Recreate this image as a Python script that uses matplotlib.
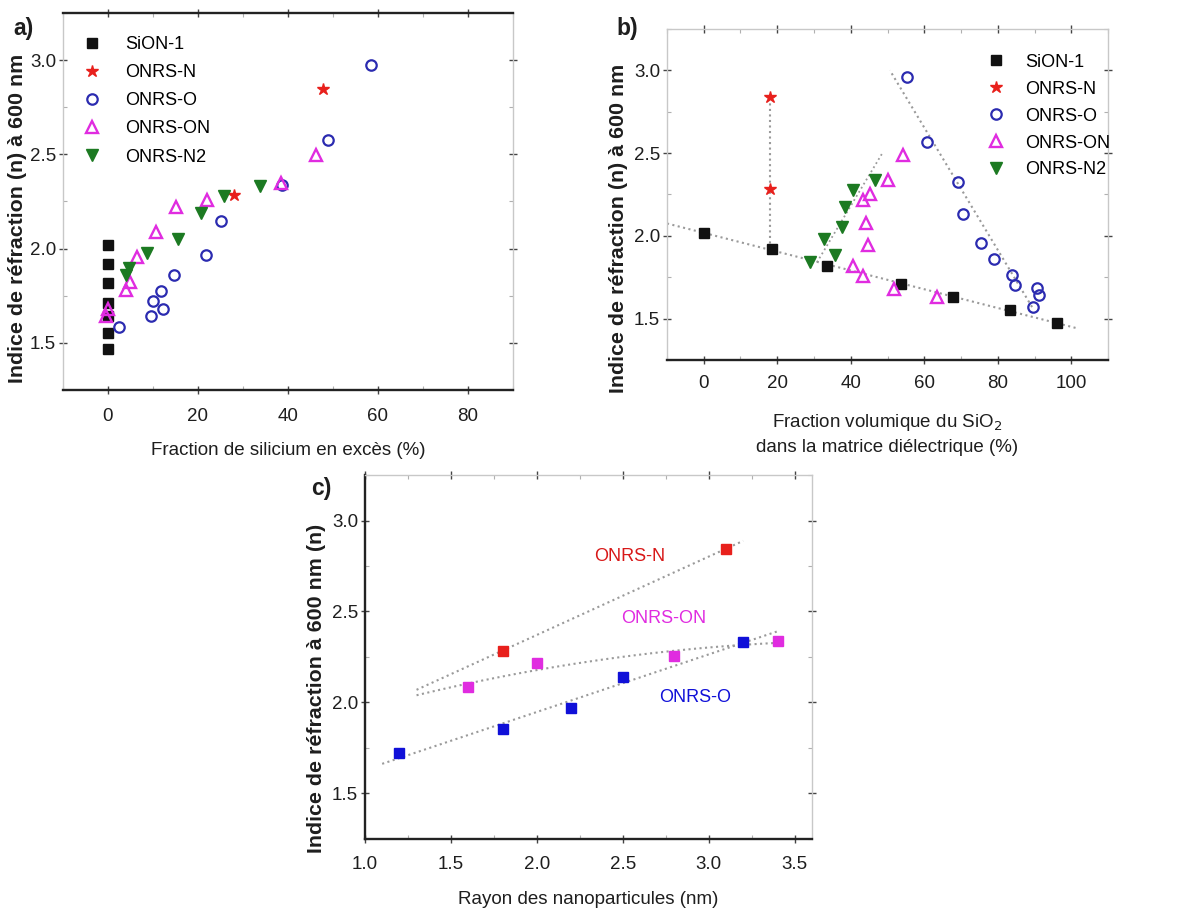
import numpy as np
import matplotlib
matplotlib.use("Agg")
import matplotlib.pyplot as plt
from matplotlib.ticker import MultipleLocator

plt.rcParams['font.family'] = ['Liberation Sans', 'DejaVu Sans']

# ---------------- data: panel a ----------------
a_sion_x = [0, 0, 0, 0, 0, 0, 0]
a_sion_y = [2.02, 1.92, 1.82, 1.71, 1.64, 1.55, 1.47]
a_n_x = [47.9, 28.0]
a_n_y = [2.845, 2.285]
a_o_x = [58.5, 49.0, 38.6, 25.2, 21.8, 14.7, 11.7, 10.0, 12.2, 9.6, 2.4]
a_o_y = [2.975, 2.576, 2.337, 2.145, 1.968, 1.862, 1.773, 1.72, 1.68, 1.645, 1.583]
a_on_x = [46.2, 38.4, 22.1, 15.1, 10.6, 6.4, 4.8, 4.0, 0.0, -0.4]
a_on_y = [2.496, 2.346, 2.26, 2.222, 2.089, 1.956, 1.823, 1.778, 1.68, 1.64]
a_n2_x = [33.7, 25.8, 20.6, 15.6, 8.7, 4.6, 4.0]
a_n2_y = [2.331, 2.278, 2.19, 2.05, 1.979, 1.897, 1.858]

# ---------------- data: panel b ----------------
b_sion_x = [0, 18.5, 33.6, 53.6, 67.7, 83.4, 96.1]
b_sion_y = [2.02, 1.92, 1.82, 1.71, 1.63, 1.55, 1.475]
b_n_x = [17.9, 17.9]
b_n_y = [2.84, 2.285]
b_o_x = [55.2, 60.8, 69.1, 70.6, 75.5, 79.1, 83.8, 84.7, 90.6, 91.1, 89.7]
b_o_y = [2.96, 2.566, 2.325, 2.135, 1.955, 1.859, 1.764, 1.705, 1.685, 1.645, 1.57]
b_on_x = [54.3, 50.0, 45.2, 43.4, 44.1, 44.7, 40.5, 43.2, 51.9, 63.4]
b_on_y = [2.486, 2.335, 2.255, 2.215, 2.079, 1.945, 1.819, 1.759, 1.679, 1.629]
b_n2_x = [46.5, 40.6, 38.4, 37.7, 32.7, 35.8, 28.8]
b_n2_y = [2.335, 2.275, 2.175, 2.051, 1.979, 1.885, 1.845]

# ---------------- data: panel c ----------------
c_n_r = [1.8, 3.1]
c_n_n = [2.285, 2.845]
c_on_r = [1.6, 2.0, 2.8, 3.4]
c_on_n = [2.084, 2.217, 2.254, 2.339]
c_o_r = [1.2, 1.8, 2.2, 2.5, 3.2]
c_o_n = [1.723, 1.856, 1.969, 2.142, 2.334]

series_labels = ['SiON-1', 'ONRS-N', 'ONRS-O', 'ONRS-ON', 'ONRS-N2']

BLACK = '#111111'
RED = '#e8201c'
BLUE = '#2b2bb0'
MAG = '#e02ce0'
GREEN = '#1c7a22'
CBLUE = '#1010d8'
TREND = '#9a9a9a'
TXT = '#1e1e1e'
YLAB_FS = 15.4

fig = plt.figure(figsize=(11.9, 9.14), dpi=100)

ax_a = fig.add_axes([0.0529, 0.5733, 0.378, 0.4125])
ax_b = fig.add_axes([0.5605, 0.6061, 0.3706, 0.3622])
ax_c = fig.add_axes([0.3067, 0.0821, 0.3756, 0.3982])


def style(ax, dark_sides, xpad):
    for side in ['left', 'right', 'top', 'bottom']:
        sp = ax.spines[side]
        if side in dark_sides:
            sp.set_color('#222222')
            sp.set_linewidth(1.7)
        else:
            sp.set_color('#c8c8c8')
            sp.set_linewidth(1.0)
    ax.tick_params(which='major', direction='inout', length=6, width=1,
                   top=True, right=True, labelsize=13.5, colors='#444444',
                   labelcolor=TXT)
    ax.tick_params(axis='y', which='major', pad=2)
    ax.tick_params(axis='x', which='major', pad=xpad)
    ax.tick_params(which='minor', direction='in', length=3, width=0.8,
                   top=True, right=True, colors='#b0b0b0')
    # lighter tick marks on the top and right sides
    for t in ax.xaxis.get_major_ticks():
        t.tick2line.set_color('#999999')
    for t in ax.yaxis.get_major_ticks():
        t.tick2line.set_color('#999999')


def draw_series(ax, sx, sy, nx, ny, ox, oy, onx, ony, n2x, n2y):
    ax.plot(sx, sy, 's', color=BLACK, ms=6.5, label=series_labels[0], zorder=3)
    ax.plot(nx, ny, '*', color=RED, ms=9, label=series_labels[1], zorder=3)
    ax.plot(ox, oy, 'o', mfc='none', mec=BLUE, mew=1.6, ms=7.5,
            label=series_labels[2], zorder=3)
    ax.plot(onx, ony, '^', mfc='none', mec=MAG, mew=1.7, ms=8.5,
            label=series_labels[3], zorder=3)
    ax.plot(n2x, n2y, 'v', color=GREEN, ms=8.5, label=series_labels[4], zorder=3)


# ---------------- panel a ----------------
draw_series(ax_a, a_sion_x, a_sion_y, a_n_x, a_n_y, a_o_x, a_o_y,
            a_on_x, a_on_y, a_n2_x, a_n2_y)
ax_a.set_xlim(-10, 90)
ax_a.set_ylim(1.25, 3.25)
ax_a.xaxis.set_major_locator(MultipleLocator(20))
ax_a.xaxis.set_minor_locator(MultipleLocator(10))
ax_a.yaxis.set_major_locator(MultipleLocator(0.5))
ax_a.yaxis.set_minor_locator(MultipleLocator(0.25))
style(ax_a, ['top', 'bottom'], xpad=10)
ax_a.set_xlabel('Fraction de silicium en excès (%)', fontsize=13.5,
                color=TXT, labelpad=12)
ax_a.set_ylabel('Indice de réfraction (n) à 600 nm', fontsize=YLAB_FS,
                fontweight='bold', color=TXT)
ax_a.yaxis.set_label_coords(-0.079, 0.456)
ax_a.legend(loc='upper left', bbox_to_anchor=(0.005, 0.968), frameon=False,
            fontsize=13, handletextpad=0.9, labelspacing=0.62,
            borderaxespad=0.2, handlelength=1.8)

# ---------------- panel b ----------------
draw_series(ax_b, b_sion_x, b_sion_y, b_n_x, b_n_y, b_o_x, b_o_y,
            b_on_x, b_on_y, b_n2_x, b_n2_y)
# trend lines (fits of the series)
p = np.polyfit(b_sion_x, b_sion_y, 1)
xx = np.linspace(-10, 102, 50)
ax_b.plot(xx, np.polyval(p, xx), ':', color=TREND, lw=1.5, zorder=1)
ax_b.plot(b_n_x, [b_sion_y[1], b_n_y[0]], ':', color=TREND, lw=1.5, zorder=1)
p = np.polyfit(b_o_y, b_o_x, 1)
yy = np.linspace(1.57, 3.0, 50)
ax_b.plot(np.polyval(p, yy), yy, ':', color=TREND, lw=1.5, zorder=1)
p = np.polyfit(b_n2_y, b_n2_x, 1)
yy = np.linspace(1.84, 2.5, 50)
ax_b.plot(np.polyval(p, yy), yy, ':', color=TREND, lw=1.3, zorder=1)
ax_b.set_xlim(-10, 110)
ax_b.set_ylim(1.25, 3.25)
ax_b.xaxis.set_major_locator(MultipleLocator(20))
ax_b.xaxis.set_minor_locator(MultipleLocator(10))
ax_b.yaxis.set_major_locator(MultipleLocator(0.5))
ax_b.yaxis.set_minor_locator(MultipleLocator(0.25))
style(ax_b, ['bottom'], xpad=8)
ax_b.set_xlabel('Fraction volumique du SiO$_2$\ndans la matrice diélectrique (%)',
                fontsize=13.5, color=TXT, labelpad=14, linespacing=1.45)
ax_b.set_ylabel('Indice de réfraction (n) à 600 nm', fontsize=YLAB_FS,
                fontweight='bold', color=TXT)
ax_b.yaxis.set_label_coords(-0.088, 0.399)
ax_b.legend(loc='upper right', bbox_to_anchor=(1.03, 0.958), frameon=False,
            fontsize=13, handletextpad=0.7, labelspacing=0.55,
            borderaxespad=0.2, handlelength=1.8)

# ---------------- panel c ----------------
p = np.polyfit(c_n_r, c_n_n, 1)
rr = np.linspace(1.3, 3.2, 50)
ax_c.plot(rr, np.polyval(p, rr), ':', color=TREND, lw=1.5, zorder=1)
p = np.polyfit(c_on_r, c_on_n, 2)
rr = np.linspace(1.3, 3.4, 50)
ax_c.plot(rr, np.polyval(p, rr), ':', color=TREND, lw=1.5, zorder=1)
p = np.polyfit(c_o_r, c_o_n, 1)
rr = np.linspace(1.1, 3.4, 50)
ax_c.plot(rr, np.polyval(p, rr), ':', color=TREND, lw=1.5, zorder=1)
ax_c.plot(c_n_r, c_n_n, 's', color=RED, ms=7, zorder=3)
ax_c.plot(c_on_r, c_on_n, 's', color=MAG, ms=7, zorder=3)
ax_c.plot(c_o_r, c_o_n, 's', color=CBLUE, ms=7, zorder=3)
ax_c.text(2.54, 2.80, 'ONRS-N', color='#d81818', fontsize=13,
          ha='center', va='center')
ax_c.text(2.74, 2.46, 'ONRS-ON', color=MAG, fontsize=13,
          ha='center', va='center')
ax_c.text(2.92, 2.03, 'ONRS-O', color=CBLUE, fontsize=13,
          ha='center', va='center')
ax_c.set_xlim(1.0, 3.6)
ax_c.set_ylim(1.25, 3.25)
ax_c.xaxis.set_major_locator(MultipleLocator(0.5))
ax_c.xaxis.set_minor_locator(MultipleLocator(0.25))
ax_c.yaxis.set_major_locator(MultipleLocator(0.5))
ax_c.yaxis.set_minor_locator(MultipleLocator(0.25))
style(ax_c, ['bottom', 'left'], xpad=9)
ax_c.set_xlabel('Rayon des nanoparticules (nm)', fontsize=13.5,
                color=TXT, labelpad=13)
ax_c.set_ylabel('Indice de réfraction à 600 nm (n)', fontsize=YLAB_FS,
                fontweight='bold', color=TXT)
ax_c.yaxis.set_label_coords(-0.087, 0.415)

# panel letters
fig.text(24 / 1190, 1 - 29 / 914, 'a)', fontsize=16.5, fontweight='bold',
         va='center', ha='center', color=TXT)
fig.text(627 / 1190, 1 - 29 / 914, 'b)', fontsize=16.5, fontweight='bold',
         va='center', ha='center', color=TXT)
fig.text(321 / 1190, 1 - 488 / 914, 'c)', fontsize=16.5, fontweight='bold',
         va='center', ha='center', color=TXT)

fig.savefig('out.png', dpi=100)
